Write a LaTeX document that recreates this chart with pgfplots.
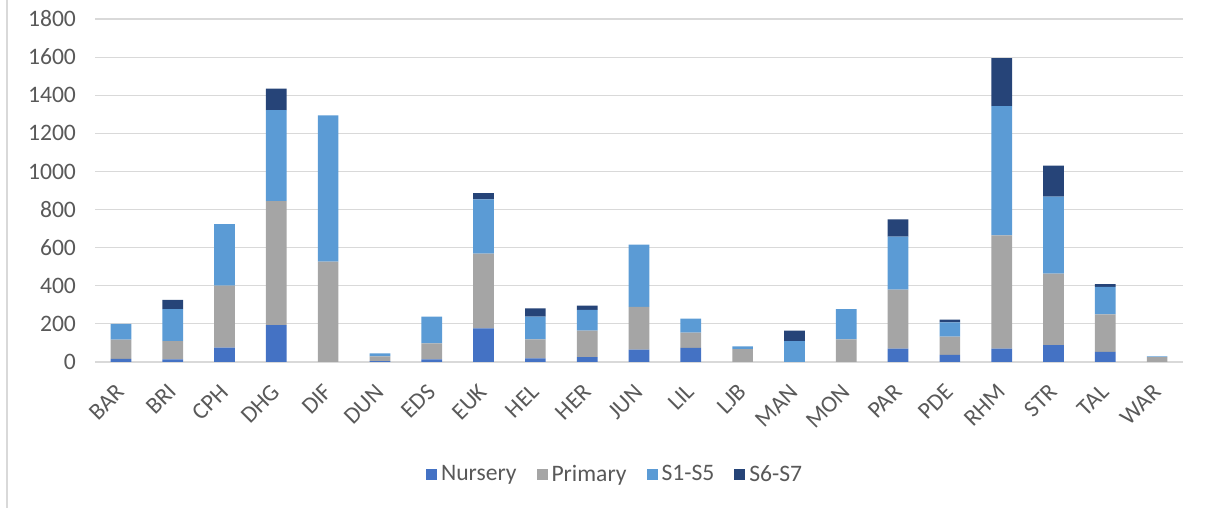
\documentclass[border=0pt]{standalone}
\usepackage{pgfplots}
\pgfplotsset{compat=1.18}
\usepackage{pgfplotstable}
\usepackage{fontspec}
\setmainfont{Carlito}
\definecolor{cN}{HTML}{4472C4}
\definecolor{cP}{HTML}{A5A5A5}
\definecolor{cS}{HTML}{5B9BD5}
\definecolor{cT}{HTML}{264478}
\definecolor{txtc}{HTML}{595959}
\definecolor{gridc}{HTML}{D9D9D9}
\pgfplotstableread{
x N P S T
0 16 101 83 0
1 14 96 168 48
2 75 326 322 0
3 193 651 478 112
4 0 527 767 0
5 4 26 15 0
6 14 84 140 0
7 177 392 285 32
8 19 100 119 44
9 25 140 108 23
10 65 224 327 0
11 74 80 74 0
12 0 68 14 0
13 0 0 110 55
14 0 119 159 0
15 70 310 278 90
16 37 96 75 14
17 70 594 679 252
18 89 375 404 162
19 53 197 144 14
20 0 25 5 0
}\data
\begin{document}
\begin{tikzpicture}
\useasboundingbox (0,0) rectangle (602.5pt,254pt);
\draw[gridc, line width=0.6pt] (3.5pt,0) -- (3.5pt,254pt);
\begin{axis}[
  at={(47.5pt,73pt)}, anchor=south west,
  scale only axis, width=544pt, height=171.5pt,
  ybar stacked, bar width=10.35pt,
  xmin=-0.5, xmax=20.5, ymin=0, ymax=1800,
  ytick={0,200,...,1800},
  xtick={0,...,20},
  xticklabels={BAR,BRI,CPH,DHG,DIF,DUN,EDS,EUK,HEL,HER,JUN,LIL,LJB,MAN,MON,PAR,PDE,RHM,STR,TAL,WAR},
  xticklabel shift=13pt,
  xticklabel style={rotate=45, anchor=east, inner sep=0pt,
    font=\fontsize{11.8pt}{14pt}\selectfont, text=txtc},
  yticklabel style={xshift=-6pt, font=\fontsize{11.8pt}{14pt}\selectfont, text=txtc},
  axis line style={draw=none},
  major tick length=0pt, tick style={draw=none},
  xmajorgrids=false,
  ymajorgrids, grid style={draw=gridc, line width=0.6pt},
  /pgf/number format/assume math mode=true,
  scaled y ticks=false,
  /pgf/number format/1000 sep={},
  legend style={at={(0.479,-0.329)}, anchor=center, legend columns=4, draw=none,
    font=\fontsize{11.8pt}{14pt}\selectfont, text=txtc,
    /tikz/every even column/.append style={column sep=8pt}},
  legend image code/.code={\path[#1, draw=none] (0pt,-2.75pt) rectangle (5.5pt,2.75pt);},
]
\addplot[fill=cN, draw=none] table[x=x, y=N] {\data};
\addplot[fill=cP, draw=none] table[x=x, y=P] {\data};
\addplot[fill=cS, draw=none] table[x=x, y=S] {\data};
\addplot[fill=cT, draw=none] table[x=x, y=T] {\data};
\legend{Nursery, Primary, S1-S5, S6-S7}
\end{axis}
\end{tikzpicture}
\end{document}
